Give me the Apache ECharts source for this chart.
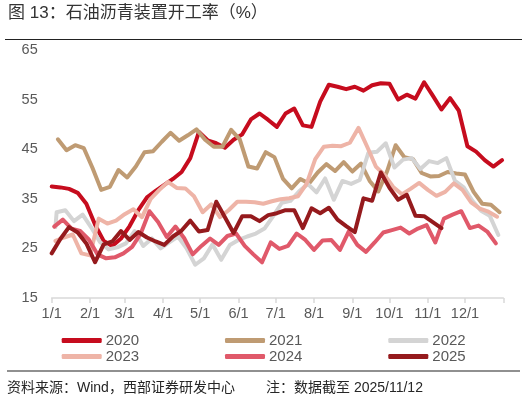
<!DOCTYPE html>
<html>
<head>
<meta charset="utf-8">
<script src="https://cdn.jsdelivr.net/npm/echarts@6/dist/echarts.min.js"></script>
<style>
  html, body { margin: 0; padding: 0; background: #fff; }
  #chart { width: 527px; height: 401px; }
</style>
</head>
<body>
<div id="chart"></div>
<script>
// weekly readings (Wednesdays), first value at day-of-year startDay
var years = ['2020', '2021', '2022', '2023', '2024', '2025'];
var colors = ['#C60C1E', '#BF9B73', '#D4D4D4', '#EEB4A7', '#E0596A', '#951A1D'];
var startDay = [0, 5, 4, 3, 2, 0];

var v2020 = [37.5, 37.3, 37.0, 36.2, 34.0, 29.8, 26.5, 25.5, 27.0, 29.5, 32.7, 35.3, 36.6, 37.8, 39.0, 40.4, 43.2, 48.5,
  46.8, 46.2, 45.3, 46.9, 48.0, 51.0, 52.2, 50.9, 49.5, 52.2, 53.2, 49.8, 49.5, 54.6, 58.0, 57.6, 57.1, 57.6, 56.8,
  57.9, 58.3, 58.2, 55.0, 56.0, 55.2, 58.5, 55.8, 53.0, 55.3, 52.8, 45.6, 44.5, 42.8, 41.5, 42.8];
var v2021 = [47.0, 44.8, 45.8, 45.2, 41.2, 36.8, 37.4, 40.8, 39.3, 41.5, 44.4, 44.6, 46.5, 48.3, 46.7, 47.8, 49.0,
  46.9, 45.5, 45.5, 48.9, 47.0, 41.5, 41.1, 44.4, 43.4, 39.0, 37.1, 39.0, 38.1, 40.3, 42.0, 40.6, 42.4, 40.5, 42.1,
  38.6, 36.5, 40.5, 45.8, 43.4, 43.0, 40.2, 39.5, 39.6, 40.4, 40.1, 39.9, 36.4, 34.0, 33.8, 32.3];
var v2022 = [32.3, 32.7, 30.5, 31.8, 29.2, 26.3, 24.8, 25.2, 26.0, 28.5, 25.5, 27.0, 25.0, 26.2, 27.4, 25.0, 21.7,
  23.0, 25.8, 22.7, 25.7, 26.7, 27.4, 28.0, 29.0, 31.5, 34.2, 34.6, 36.5, 38.0, 36.3, 39.1, 34.8, 38.6, 38.0, 38.8,
  44.3, 44.5, 46.2, 41.3, 42.9, 43.2, 41.0, 42.6, 42.2, 43.2, 38.6, 37.3, 34.6, 32.6, 31.6, 27.7];
var lead2022 = [3, 29.3]; // reading just before the first Wednesday
var v2023 = [26.5, 27.2, 27.8, 24.0, 23.6, 31.0, 30.0, 30.6, 31.9, 32.9, 31.3, 35.0, 36.8, 38.4, 37.2, 37.1, 35.5,
  32.3, 33.9, 31.3, 32.7, 34.4, 34.4, 34.3, 34.0, 34.5, 34.9, 35.1, 35.5, 38.0, 43.0, 45.5, 45.7, 45.6, 46.3, 49.3,
  45.5, 41.5, 39.8, 37.4, 35.9, 37.0, 38.2, 36.8, 35.6, 36.4, 38.1, 36.8, 34.3, 33.0, 32.4, 31.4];
var v2024 = [29.4, 30.8, 29.0, 28.5, 26.8, 23.8, 23.0, 23.2, 24.0, 25.3, 28.0, 32.5, 30.3, 27.3, 29.4, 27.1, 23.8,
  25.5, 27.0, 25.7, 27.5, 28.0, 25.5, 23.8, 22.2, 26.2, 24.9, 25.5, 28.0, 26.7, 24.7, 26.6, 26.7, 24.7, 28.4, 25.7,
  24.3, 26.2, 28.2, 28.7, 29.2, 28.0, 29.0, 29.7, 26.2, 31.0, 31.8, 32.5, 29.1, 29.6, 28.4, 26.0];
var v2025 = [24.0, 26.9, 29.3, 28.2, 26.0, 22.2, 25.8, 26.4, 28.5, 26.7, 28.3, 27.2, 26.4, 25.7, 27.4, 28.6, 30.6,
  28.4, 28.7, 34.4, 31.3, 28.1, 31.5, 31.5, 30.5, 31.7, 32.1, 32.7, 32.7, 29.1, 33.1, 32.1, 33.2, 30.8, 29.5, 28.3,
  35.1, 34.6, 40.3, 37.2, 34.8, 35.8, 31.6, 31.5, 30.3, 29.1];
var values = [v2020, v2021, v2022, v2023, v2024, v2025];

// day-of-year categories, 1/1 .. 12/31 plus the closing edge
var days = [];
for (var d = 0; d < 365; d++) {
  var dt = new Date(2021, 0, 1 + d);
  days.push((dt.getMonth() + 1) + '/' + dt.getDate());
}
days.push('');

var FONT = '"Liberation Sans", Arial, "Noto Sans CJK SC", sans-serif';

function toPoints(k) {
  var pts = values[k].map(function (v, i) { return [startDay[k] + 7 * i, v]; });
  if (years[k] === '2022') pts.unshift(lead2022);
  return pts;
}

var series = years.map(function (y, k) {
  return {
    name: y,
    type: 'line',
    data: toPoints(k),
    symbol: 'none',
    color: colors[k],
    lineStyle: { width: 4, color: colors[k], join: 'round', cap: 'round' }
  };
});

var legends = years.map(function (y, k) {
  return {
    data: [y],
    left: 61.7 + (k % 3) * 163.3,
    top: 333 + Math.floor(k / 3) * 16,
    padding: 0,
    icon: 'roundRect',
    itemWidth: 40,
    itemHeight: 5,
    itemGap: 0,
    textStyle: { fontFamily: FONT, fontSize: 15, color: '#595959', padding: [0, 0, 0, -1] }
  };
});

var chart = echarts.init(document.getElementById('chart'));
chart.setOption({
  animation: false,
  title: {
    text: '图 13：石油沥青装置开工率（%）',
    left: 8, top: 5, padding: 0,
    textStyle: { fontFamily: FONT, fontSize: 17, fontWeight: 'normal', color: '#333333' }
  },
  grid: { left: 51.7, right: 23.7, top: 50, bottom: 103 },
  legend: legends,
  xAxis: {
    type: 'category',
    data: days,
    boundaryGap: false,
    axisLine: { lineStyle: { color: '#D9D9D9', width: 1.5 } },
    axisTick: {
      length: 5,
      lineStyle: { color: '#D9D9D9', width: 1.5 },
      interval: function (i, v) { return i === days.length - 1 || /\/1$/.test(v); }
    },
    axisLabel: {
      margin: 9,
      fontFamily: FONT, fontSize: 14.5, color: '#595959',
      interval: function (i, v) { return /\/1$/.test(v); }
    },
    splitLine: { show: false }
  },
  yAxis: {
    type: 'value',
    min: 15, max: 65, interval: 5,
    axisLine: { show: false },
    axisTick: { show: false },
    splitLine: { show: false },
    axisLabel: {
      margin: 14,
      fontFamily: FONT, fontSize: 14.5, color: '#595959',
      formatter: function (v) { return (v - 15) % 10 === 0 ? String(v) : ''; }
    }
  },
  graphic: [
    { type: 'line', shape: { x1: 5, y1: 39.5, x2: 522, y2: 39.5 }, style: { stroke: '#222', lineWidth: 1.2 } },
    { type: 'line', shape: { x1: 7, y1: 371, x2: 520, y2: 371 }, style: { stroke: '#222', lineWidth: 1.2 } },
    { type: 'text', left: 7, top: 381,
      style: { text: '资料来源：Wind，西部证券研发中心', fontFamily: FONT, fontSize: 14, fill: '#262626' } },
    { type: 'text', left: 266, top: 381,
      style: { text: '注：数据截至 2025/11/12', fontFamily: FONT, fontSize: 14, fill: '#262626' } }
  ],
  series: series
});
</script>
</body>
</html>
